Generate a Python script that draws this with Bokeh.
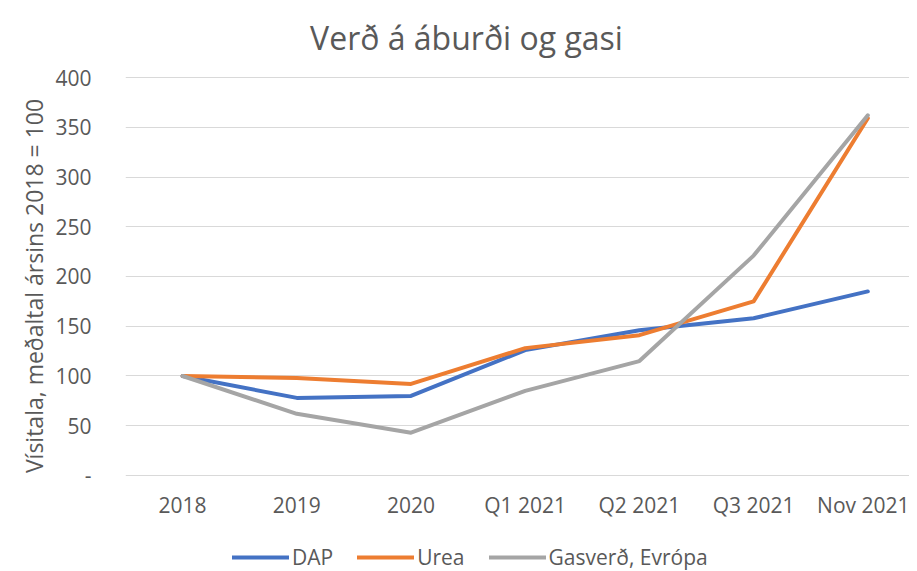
from bokeh.plotting import figure
from bokeh.models import Range1d, Legend, LegendItem, FixedTicker, Label
from bokeh.embed import file_html
from bokeh.resources import INLINE

categories = ["2018", "2019", "2020", "Q1 2021", "Q2 2021", "Q3 2021", "Nov 2021"]
dap = [100, 78, 80, 126, 146, 158, 185]
urea = [100, 98, 92, 128, 141, 175, 359]
gas = [100, 62, 43, 85, 115, 221, 362]
y_ticks = [0, 50, 100, 150, 200, 250, 300, 350, 400]

FONT = "Open Sans"
TXT = "#595959"

x = list(range(len(categories)))

# The plot area spans the whole height: room for title above 400 and legend below 0
p = figure(width=909, height=571, output_backend="svg", toolbar_location=None,
           title_location=None,
           x_range=Range1d(-0.5, 6.365), y_range=Range1d(-96.5, 477.4),
           min_border_left=125, min_border_top=0, min_border_bottom=0, min_border_right=0)
p.outline_line_color = None
p.background_fill_color = "white"
p.border_fill_color = "white"
p.xgrid.grid_line_color = None
p.ygrid.grid_line_color = "#D9D9D9"
p.ygrid.grid_line_width = 1
p.ygrid.ticker = FixedTicker(ticks=y_ticks)

ya = p.yaxis[0]
ya.ticker = FixedTicker(ticks=y_ticks)
ya.major_label_overrides = {0: "-"}
ya.axis_line_color = None
ya.major_tick_line_color = None
ya.minor_tick_line_color = None
ya.major_label_text_font = FONT
ya.major_label_text_font_size = "21px"
ya.major_label_text_color = TXT
ya.major_label_standoff = 28
ya.axis_label = "Vísitala, meðaltal ársins 2018 = 100"
ya.axis_label_text_font = FONT
ya.axis_label_text_font_size = "23px"
ya.axis_label_text_font_style = "normal"
ya.axis_label_text_color = TXT
ya.axis_label_standoff = 2

xa = p.xaxis[0]
xa.fixed_location = 0
xa.ticker = FixedTicker(ticks=x)
xa.major_label_overrides = {i: c for i, c in enumerate(categories)}
xa.axis_line_color = None
xa.major_tick_line_color = None
xa.minor_tick_line_color = None
xa.major_label_text_font = FONT
xa.major_label_text_font_size = "21px"
xa.major_label_text_color = TXT
xa.major_label_standoff = 10

r_dap = p.line(x, dap, line_color="#4472C4", line_width=4, line_join="round", line_cap="round")
r_urea = p.line(x, urea, line_color="#ED7D31", line_width=4, line_join="round", line_cap="round")
r_gas = p.line(x, gas, line_color="#A5A5A5", line_width=4, line_join="round", line_cap="round")

legend = Legend(items=[LegendItem(label="DAP", renderers=[r_dap]),
                       LegendItem(label="Urea", renderers=[r_urea]),
                       LegendItem(label="Gasverð, Evrópa", renderers=[r_gas])],
                orientation="horizontal", location=(107, 0),
                glyph_width=57, glyph_height=20, label_standoff=3, spacing=24,
                padding=0, margin=0, border_line_color=None, background_fill_alpha=0,
                label_text_font=FONT, label_text_font_size="21px", label_text_color=TXT)
p.add_layout(legend)

title = Label(x=2.486, y=440.2, text="Verð á áburði og gasi", text_align="center",
              text_baseline="alphabetic", text_font=FONT, text_font_size="32px",
              text_color=TXT)
p.add_layout(title)

open("out.html", "w").write(file_html(p, INLINE))
